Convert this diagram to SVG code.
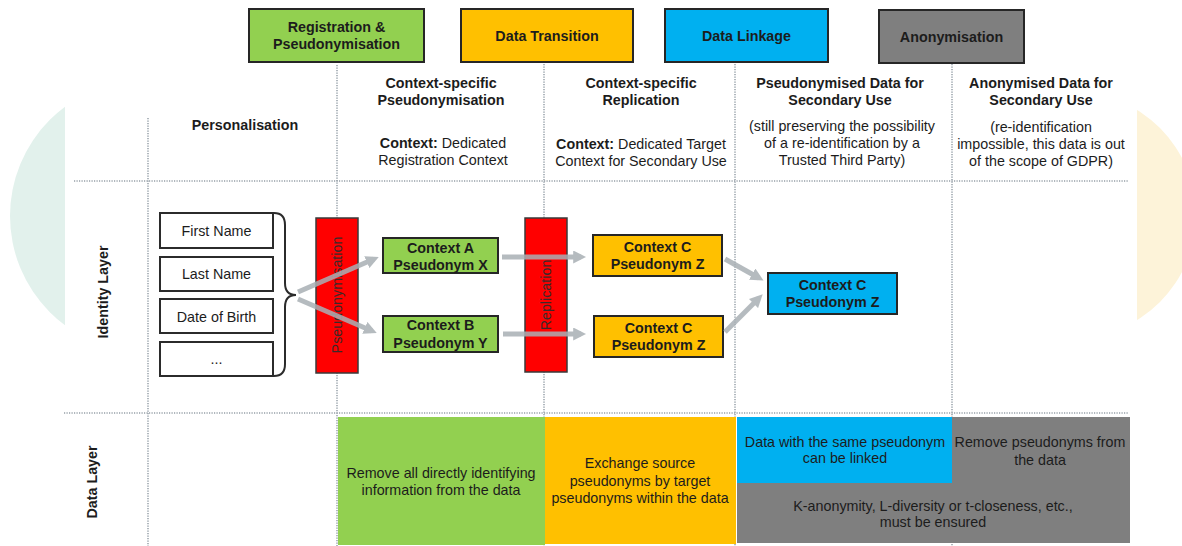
<svg xmlns="http://www.w3.org/2000/svg" width="1182" height="546" viewBox="0 0 1182 546">
  <style>
    text { font-family: "Liberation Sans", Arial, sans-serif; font-size: 14.3px; fill: #1c1c1c; }
    .b { font-weight: bold; }
    .m { text-anchor: middle; }
    .grid { stroke: #96a0a8; stroke-width: 1.5; stroke-dasharray: 1.2 1.3; fill: none; }
    .hdr { stroke: #262626; stroke-width: 2; }
    .box { stroke: #262626; stroke-width: 2; }
    .item { fill: #ffffff; stroke: #2b2b2b; stroke-width: 2; }
    .bar { fill: #ff0000; stroke: #3a3a3a; stroke-width: 1.5; }
    .barText { fill: #3a2a2a; }
    .conn { stroke: #a9b0b5; stroke-width: 5; fill: none; marker-end: url(#head); }
  </style>
  <defs>
    <clipPath id="clipLeft"><rect x="0" y="0" width="65" height="546"/></clipPath>
    <clipPath id="clipRight"><rect x="1137" y="0" width="45" height="546"/></clipPath>
    <marker id="head" viewBox="0 0 10 10" refX="6" refY="5" markerWidth="2.6" markerHeight="2.6" orient="auto" markerUnits="strokeWidth">
      <path d="M0,0 L10,5 L0,10 Z" fill="#a9b0b5"/>
    </marker>
  </defs>

  <rect width="1182" height="546" fill="#ffffff"/>

  <!-- decorative background discs -->
  <g id="background">
    <circle cx="146" cy="216" r="136" fill="#e2f1ec" clip-path="url(#clipLeft)"/>
    <circle cx="1073" cy="215" r="123" fill="#fdf3d9" clip-path="url(#clipRight)"/>
  </g>

  <!-- dotted grid -->
  <g id="grid">
    <line class="grid" x1="74" y1="181" x2="1128" y2="181"/>
    <line class="grid" x1="64" y1="413" x2="1128" y2="413"/>
    <line class="grid" x1="148" y1="118" x2="148" y2="546"/>
    <line class="grid" x1="337" y1="65" x2="337" y2="546"/>
    <line class="grid" x1="544" y1="64" x2="544" y2="546"/>
    <line class="grid" x1="735" y1="64" x2="735" y2="546"/>
    <line class="grid" x1="952" y1="64" x2="952" y2="546"/>
  </g>

  <!-- phase headers -->
  <g id="phase-registration">
    <rect class="hdr" x="249" y="9" width="175" height="53" fill="#92d050"/>
    <text class="b m" x="336.5" y="32">Registration &amp;</text>
    <text class="b m" x="336.5" y="49">Pseudonymisation</text>
  </g>
  <g id="phase-transition">
    <rect class="hdr" x="461" y="9" width="172" height="53" fill="#ffc000"/>
    <text class="b m" x="547" y="41">Data Transition</text>
  </g>
  <g id="phase-linkage">
    <rect class="hdr" x="665" y="9" width="163" height="53" fill="#00b0f0"/>
    <text class="b m" x="746.5" y="41">Data Linkage</text>
  </g>
  <g id="phase-anonymisation">
    <rect class="hdr" x="879" y="10" width="145" height="53" fill="#7f7f7f"/>
    <text class="b m" x="951.5" y="42">Anonymisation</text>
  </g>

  <!-- column titles -->
  <g id="col-personalisation">
    <text class="b m" x="245" y="130">Personalisation</text>
  </g>
  <g id="col-pseudonymisation">
    <text class="b m" x="441" y="88">Context-specific</text>
    <text class="b m" x="441" y="105">Pseudonymisation</text>
    <text class="m" x="443" y="148"><tspan class="b">Context:</tspan> Dedicated</text>
    <text class="m" x="443" y="165">Registration Context</text>
  </g>
  <g id="col-replication">
    <text class="b m" x="641" y="88">Context-specific</text>
    <text class="b m" x="641" y="105">Replication</text>
    <text class="m" x="641" y="149"><tspan class="b">Context:</tspan> Dedicated Target</text>
    <text class="m" x="641" y="166">Context for Secondary Use</text>
  </g>
  <g id="col-pseudonymised">
    <text class="b m" x="840" y="88">Pseudonymised Data for</text>
    <text class="b m" x="840" y="105">Secondary Use</text>
    <text class="m" x="842" y="131">(still preserving the possibility</text>
    <text class="m" x="842" y="148">of a re-identification by a</text>
    <text class="m" x="842" y="165">Trusted Third Party)</text>
  </g>
  <g id="col-anonymised">
    <text class="b m" x="1041" y="88">Anonymised Data for</text>
    <text class="b m" x="1041" y="105">Secondary Use</text>
    <text class="m" x="1041" y="132">(re-identification</text>
    <text class="m" x="1041" y="149">impossible, this data is out</text>
    <text class="m" x="1041" y="166">of the scope of GDPR)</text>
  </g>

  <!-- row labels -->
  <g id="row-identity">
    <text class="b m" transform="translate(108,292) rotate(-90)">Identity Layer</text>
  </g>
  <g id="row-data">
    <text class="b m" transform="translate(97,482) rotate(-90)">Data Layer</text>
  </g>

  <!-- identifying attributes -->
  <g id="attr-first-name">
    <rect class="item" x="160" y="213" width="113" height="35"/>
    <text class="m" x="216.5" y="236">First Name</text>
  </g>
  <g id="attr-last-name">
    <rect class="item" x="160" y="257" width="113" height="34"/>
    <text class="m" x="216.5" y="279">Last Name</text>
  </g>
  <g id="attr-date-of-birth">
    <rect class="item" x="160" y="299" width="113" height="34"/>
    <text class="m" x="216.5" y="322">Date of Birth</text>
  </g>
  <g id="attr-more">
    <rect class="item" x="160" y="342" width="113" height="34"/>
    <text class="m" x="216.5" y="364">...</text>
  </g>
  <g id="brace">
    <path d="M274,213 Q285,213 285,225 L285,283 Q285,295 296,295 Q285,295 285,307 L285,364 Q285,376 274,376" fill="none" stroke="#2b2b2b" stroke-width="2"/>
  </g>

  <!-- process bars -->
  <g id="bar-pseudonymisation">
    <rect class="bar" x="316" y="218" width="42" height="155"/>
    <text class="m barText" transform="translate(342,295) rotate(-90)">Pseudonymisation</text>
  </g>
  <g id="bar-replication">
    <rect class="bar" x="525" y="218" width="42" height="154"/>
    <text class="m barText" transform="translate(551,295) rotate(-90)">Replication</text>
  </g>

  <!-- pseudonym nodes -->
  <g id="ctx-a">
    <rect class="box" x="383" y="238" width="115" height="35" fill="#92d050"/>
    <text class="b m" x="440.5" y="253">Context A</text>
    <text class="b m" x="440.5" y="270">Pseudonym X</text>
  </g>
  <g id="ctx-b">
    <rect class="box" x="383" y="316" width="115" height="36" fill="#92d050"/>
    <text class="b m" x="440.5" y="330">Context B</text>
    <text class="b m" x="440.5" y="348">Pseudonym Y</text>
  </g>
  <g id="ctx-c-upper">
    <rect class="box" x="593" y="235" width="129" height="41" fill="#ffc000"/>
    <text class="b m" x="657.5" y="252">Context C</text>
    <text class="b m" x="657.5" y="269">Pseudonym Z</text>
  </g>
  <g id="ctx-c-lower">
    <rect class="box" x="594" y="316" width="129" height="41" fill="#ffc000"/>
    <text class="b m" x="658.5" y="333">Context C</text>
    <text class="b m" x="658.5" y="350">Pseudonym Z</text>
  </g>
  <g id="ctx-c-linked">
    <rect class="box" x="768" y="273" width="129" height="41" fill="#00b0f0"/>
    <text class="b m" x="832.5" y="290">Context C</text>
    <text class="b m" x="832.5" y="307">Pseudonym Z</text>
  </g>

  <!-- connectors -->
  <g id="connectors" opacity="0.85">
    <line class="conn" x1="298" y1="292" x2="374" y2="259"/>
    <line class="conn" x1="298" y1="299" x2="372" y2="331"/>
    <line class="conn" x1="502" y1="257" x2="581" y2="257"/>
    <line class="conn" x1="503" y1="334" x2="581" y2="334"/>
    <line class="conn" x1="725" y1="259" x2="759" y2="278"/>
    <line class="conn" x1="725" y1="332" x2="759" y2="298"/>
  </g>

  <!-- data layer -->
  <g id="data-remove-identifying">
    <rect x="338" y="417" width="207" height="128" fill="#92d050"/>
    <text class="m" x="441" y="478">Remove all directly identifying</text>
    <text class="m" x="441" y="495">information from the data</text>
  </g>
  <g id="data-exchange">
    <rect x="545" y="417" width="191" height="127" fill="#ffc000"/>
    <text class="m" x="640" y="468">Exchange source</text>
    <text class="m" x="640" y="486">pseudonyms by target</text>
    <text class="m" x="640" y="503">pseudonyms within the data</text>
  </g>
  <g id="data-anonymise">
    <rect x="737" y="417" width="393" height="126" fill="#7f7f7f"/>
    <text class="m" x="1040" y="447">Remove pseudonyms from</text>
    <text class="m" x="1040" y="465">the data</text>
    <text class="m" x="933" y="511">K-anonymity, L-diversity or t-closeness, etc.,</text>
    <text class="m" x="933" y="527">must be ensured</text>
  </g>
  <g id="data-link">
    <rect x="737" y="417" width="215" height="66" fill="#00b0f0"/>
    <text class="m" x="845" y="447">Data with the same pseudonym</text>
    <text class="m" x="845" y="463">can be linked</text>
  </g>
</svg>
